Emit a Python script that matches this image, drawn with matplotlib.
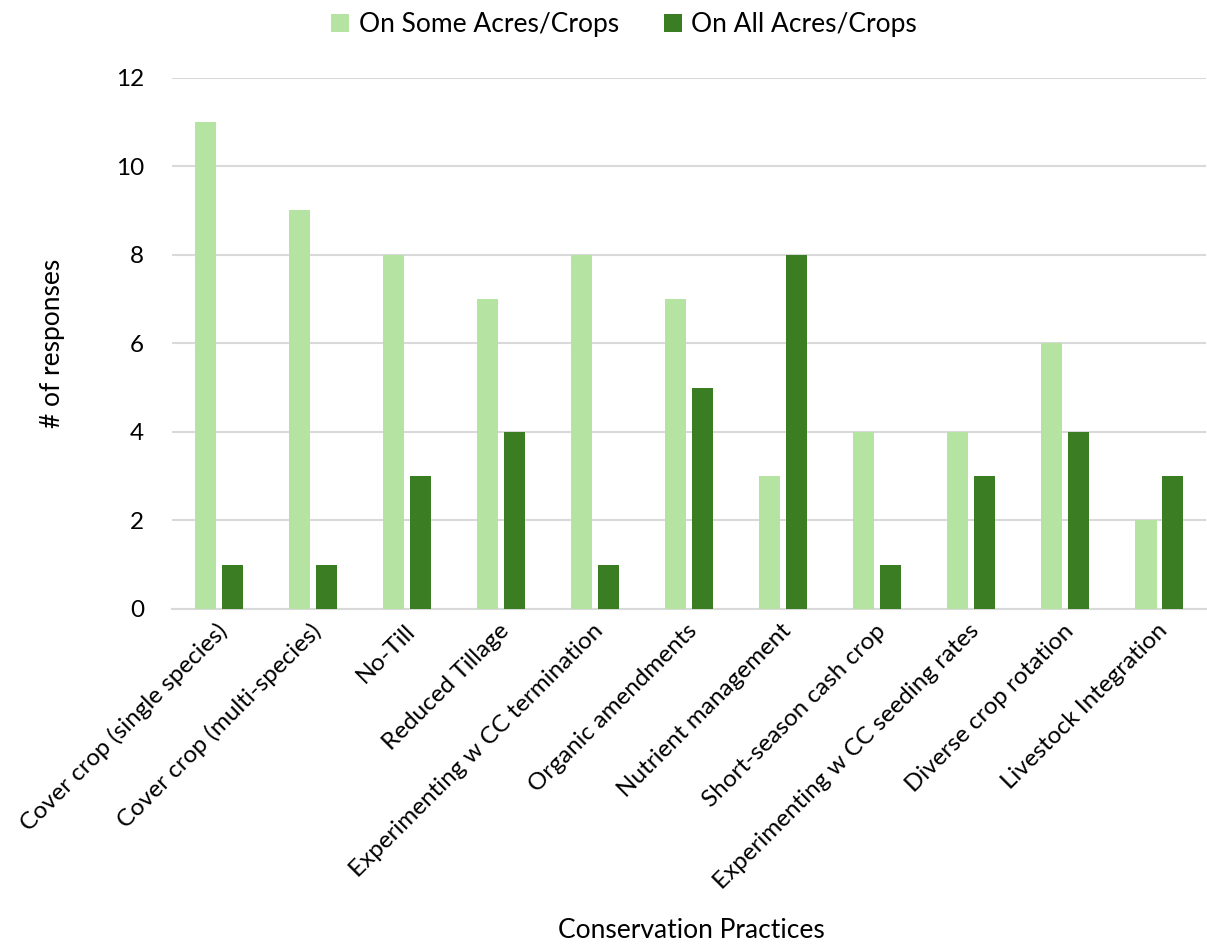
import matplotlib.pyplot as plt
import numpy as np

plt.rcParams['font.family'] = ['Lato', 'DejaVu Sans']

practices = [
    'Cover crop (single species)', 'Cover crop (multi-species)', 'No-Till',
    'Reduced Tillage', 'Experimenting w CC termination', 'Organic amendments',
    'Nutrient management', 'Short-season cash crop',
    'Experimenting w CC seeding rates', 'Diverse crop rotation',
    'Livestock Integration',
]
some_acres = [11, 9, 8, 7, 8, 7, 3, 4, 4, 6, 2]
all_acres = [1, 1, 3, 4, 1, 5, 8, 1, 3, 4, 3]

light = '#B5E3A2'
dark = '#3A7D22'
grid_col = '#D9D9D9'

fig = plt.figure(figsize=(12.07, 9.47), dpi=100)
ax = fig.add_axes([0.1425, 0.357, 0.857, 0.561])

x = np.arange(len(practices))
w = 0.225
off = 0.143
ax.bar(x - off, some_acres, w, color=light, label='On Some Acres/Crops', zorder=3)
ax.bar(x + off, all_acres, w, color=dark, label='On All Acres/Crops', zorder=3)

ax.set_xlim(-0.5, len(practices) - 0.5)
ax.set_ylim(0, 12)
ax.set_yticks(range(0, 13, 2))
ax.yaxis.grid(True, color=grid_col, linewidth=1.5, zorder=0)
ax.set_axisbelow(True)

for s in ['top', 'right', 'left']:
    ax.spines[s].set_visible(False)
ax.spines['bottom'].set_color(grid_col)
ax.spines['bottom'].set_linewidth(1.5)
ax.tick_params(length=0, labelsize=17.5, colors='black')
ax.tick_params(axis='y', pad=20)
ax.tick_params(axis='x', pad=8)

ax.set_xticks(x - 0.03)
ax.set_xticklabels(practices, rotation=45, ha='right', rotation_mode='anchor', fontsize=17.5)

ax.set_ylabel('# of responses', fontsize=19, labelpad=37)
fig.text(0.573, 0.004, 'Conservation Practices', ha='center', va='bottom', fontsize=19)

fig.legend(loc='upper center', bbox_to_anchor=(0.517, 1.012), ncol=2, frameon=False,
           fontsize=19, handlelength=0.7, handleheight=0.7, handletextpad=0.35,
           columnspacing=1.7)

fig.savefig('out.png', dpi=100)
